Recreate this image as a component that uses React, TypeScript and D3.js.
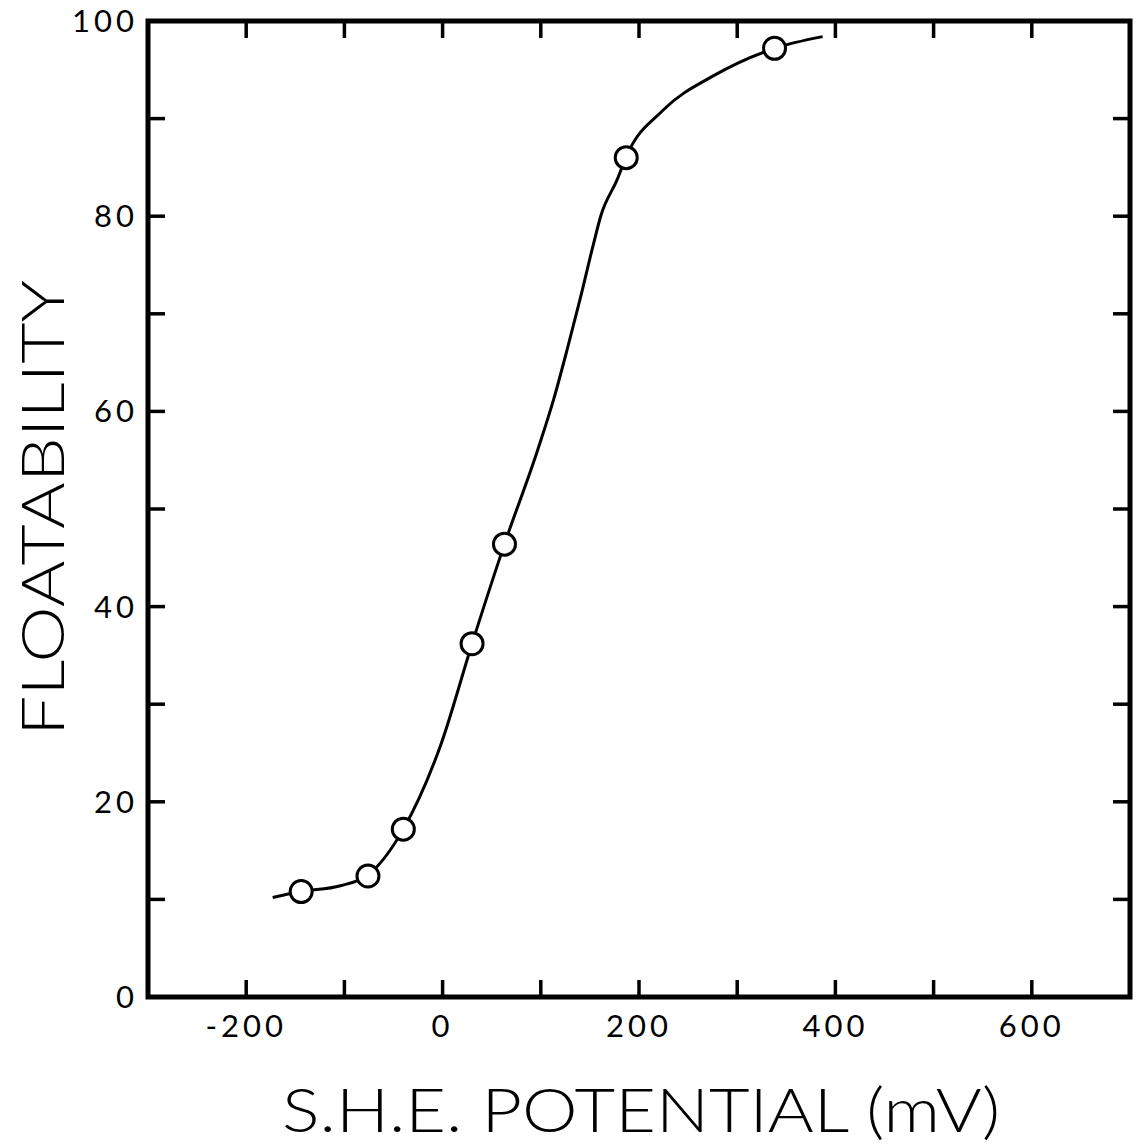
import React from "react";
import * as d3 from "d3";

// Measured data points (S.H.E. potential mV, floatability %)
const pointX = [-144, -76, -40, 30, 63, 187, 338];
const pointY = [10.8, 12.4, 17.2, 36.2, 46.4, 86.0, 97.2];

// Hand-drawn fitted curve
const curveX = [-173, -144, -104, -76, -40, -2, 30, 63, 97, 113, 127, 140, 154, 161, 178, 187, 225, 276, 338, 387];
const curveY = [10.2, 10.8, 11.4, 12.5, 17.2, 25.8, 36.2, 46.4, 56.1, 61.2, 66.4, 71.5, 77.3, 80.0, 83.8, 86.1, 90.9, 94.4, 97.2, 98.4];

const xTickValues = [-200, -100, 0, 100, 200, 300, 400, 500, 600];
const xTickLabels = ["-200", "", "0", "", "200", "", "400", "", "600"];
const yTickValues = [0, 10, 20, 30, 40, 50, 60, 70, 80, 90, 100];
const yTickLabels = ["0", "", "20", "", "40", "", "60", "", "80", "", "100"];

const xTitle = "S.H.E. POTENTIAL (mV)";
const yTitle = "FLOATABILITY";

export default function App() {
  const W = 1142, H = 1145;
  const left = 148, right = 1130, top = 21, bottom = 997;
  const x = d3.scaleLinear().domain([-300, 700]).range([left, right]);
  const y = d3.scaleLinear().domain([0, 100]).range([bottom, top]);
  const tick = 17;
  const font = "Lato, 'DejaVu Sans', sans-serif";

  const line = d3
    .line<number>()
    .x((_, i) => x(curveX[i]))
    .y((d) => y(d))
    .curve(d3.curveMonotoneX);

  return (
    <svg width={W} height={H} style={{ position: "absolute", left: 0, top: 0, background: "#fff" }}>
      <rect x={0} y={0} width={W} height={H} fill="#fff" />
      {/* ticks */}
      {xTickValues.map((v, i) => (
        <g key={"xt" + i}>
          <line x1={x(v)} x2={x(v)} y1={bottom} y2={bottom - tick} stroke="#000" strokeWidth={3.5} />
          <line x1={x(v)} x2={x(v)} y1={top} y2={top + tick} stroke="#000" strokeWidth={3.5} />
          {xTickLabels[i] && (
            <text x={x(v)} y={bottom + 40} textAnchor="middle" fontFamily={font} fontWeight={400} fontSize={31} fill="#000" letterSpacing={4}>
              {xTickLabels[i]}
            </text>
          )}
        </g>
      ))}
      {yTickValues.map((v, i) => (
        <g key={"yt" + i}>
          {v > 0 && v < 100 && (
            <>
              <line x1={left} x2={left + tick} y1={y(v)} y2={y(v)} stroke="#000" strokeWidth={3.5} />
              <line x1={right} x2={right - tick} y1={y(v)} y2={y(v)} stroke="#000" strokeWidth={3.5} />
            </>
          )}
          {yTickLabels[i] && (
            <text x={left - 10} y={y(v) + 11} textAnchor="end" fontFamily={font} fontWeight={400} fontSize={31} fill="#000" letterSpacing={4}>
              {yTickLabels[i]}
            </text>
          )}
        </g>
      ))}
      {/* frame */}
      <rect x={left} y={top} width={right - left} height={bottom - top} fill="none" stroke="#000" strokeWidth={5} />
      {/* curve */}
      <path d={line(curveY) || ""} fill="none" stroke="#000" strokeWidth={3} />
      {/* points */}
      {pointX.map((px, i) => (
        <circle key={"p" + i} cx={x(px)} cy={y(pointY[i])} r={11} fill="#fff" stroke="#000" strokeWidth={3} />
      ))}
      {/* titles */}
      <text x={641} y={1132} textAnchor="middle" fontFamily={font} fontWeight={300} fontSize={62} fill="#000" textLength={718} lengthAdjust="spacingAndGlyphs">
        {xTitle}
      </text>
      <text transform={`translate(64,508) rotate(-90)`} textAnchor="middle" fontFamily={font} fontWeight={300} fontSize={60} fill="#000" textLength={456} lengthAdjust="spacingAndGlyphs">
        {yTitle}
      </text>
    </svg>
  );
}
